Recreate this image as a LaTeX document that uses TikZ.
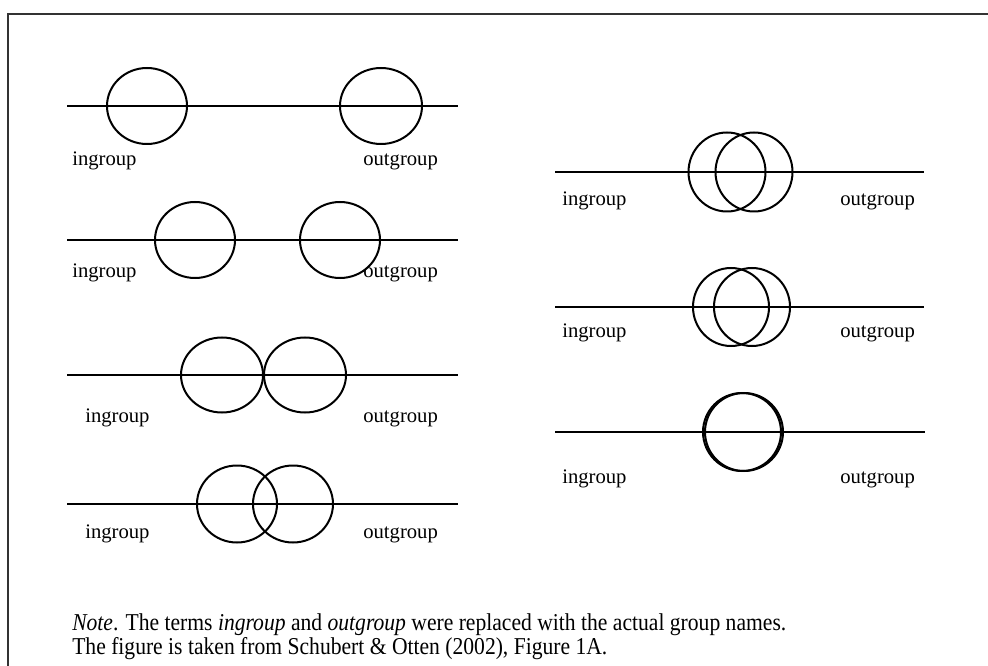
\documentclass[tikz,border=0pt]{standalone}
\usepackage{fontspec}
\setmainfont{Liberation Serif}
\begin{document}
\begin{tikzpicture}[x=0.75pt,y=-0.75pt,
  axis/.style={line width=1.4pt},
  grp/.style={line width=1.5pt},
  lbl/.style={anchor=base west,inner sep=0pt,font=\fontsize{15.5}{18}\selectfont},
  note/.style={anchor=base west,inner sep=0pt,font=\fontsize{16.2}{19}\selectfont}]
\useasboundingbox (0,0) rectangle (988,666);
% outer frame (top and left edges)
\draw[line width=1.5pt,black!80] (7.5,666) -- (7.5,14.5) -- (988,14.5);

% ---- left column ----
% row 1: far apart
\draw[axis] (67,106) -- (458,106);
\draw[grp] (147,106) ellipse [x radius=40,y radius=38];
\draw[grp] (381,106) ellipse [x radius=41,y radius=38];
\node[lbl] (in1) at (72,166) {ingroup};
\node[lbl] (out1) at (363,166) {outgroup};

% row 2: closer
\draw[axis] (67,240) -- (458,240);
\draw[grp] (195,240) ellipse [x radius=40,y radius=38];
\draw[grp] (340,240) ellipse [x radius=40,y radius=38];
\node[lbl] (in2) at (72,278) {ingroup};
\node[lbl] (out2) at (363,278) {outgroup};

% row 3: touching
\draw[axis] (67,375) -- (458,375);
\draw[grp] (222,375) ellipse [x radius=41,y radius=37.5];
\draw[grp] (305,375) ellipse [x radius=41,y radius=37.5];
\node[lbl] (in3) at (85,422) {ingroup};
\node[lbl] (out3) at (363,422) {outgroup};

% row 4: small overlap
\draw[axis] (67,504) -- (458,504);
\draw[grp] (237,504) ellipse [x radius=40,y radius=38.5];
\draw[grp] (293,504) ellipse [x radius=40,y radius=38.5];
\node[lbl] (in4) at (85,538) {ingroup};
\node[lbl] (out4) at (363,538) {outgroup};

% ---- right column ----
% row 5: large overlap
\draw[axis] (555,172) -- (924,172);
\draw[grp] (727,172) ellipse [x radius=38.5,y radius=39.5];
\draw[grp] (754,172) ellipse [x radius=38.5,y radius=39.5];
\node[lbl] (in5) at (562,206) {ingroup};
\node[lbl] (out5) at (840,206) {outgroup};

% row 6: larger overlap
\draw[axis] (555,307) -- (924,307);
\draw[grp] (731,307) ellipse [x radius=38,y radius=39];
\draw[grp] (752,307) ellipse [x radius=38,y radius=39];
\node[lbl] (in6) at (562,338) {ingroup};
\node[lbl] (out6) at (840,338) {outgroup};

% row 7: complete overlap
\draw[axis] (555,432) -- (925,432);
\draw[grp] (742,432) ellipse [x radius=39,y radius=39];
\draw[grp] (744,432) ellipse [x radius=39,y radius=39];
\node[lbl] (in7) at (562,483) {ingroup};
\node[lbl] (out7) at (840,483) {outgroup};

% ---- note ----
\node[note] (note1) at (72,630) {\scalebox{1}[1.12]{\textit{Note}. The terms \textit{ingroup} and \textit{outgroup} were replaced with the actual group names.}};
\node[note] (note2) at (72,654) {\scalebox{1}[1.12]{The figure is taken from Schubert \& Otten (2002), Figure 1A.}};
\end{tikzpicture}
\end{document}
